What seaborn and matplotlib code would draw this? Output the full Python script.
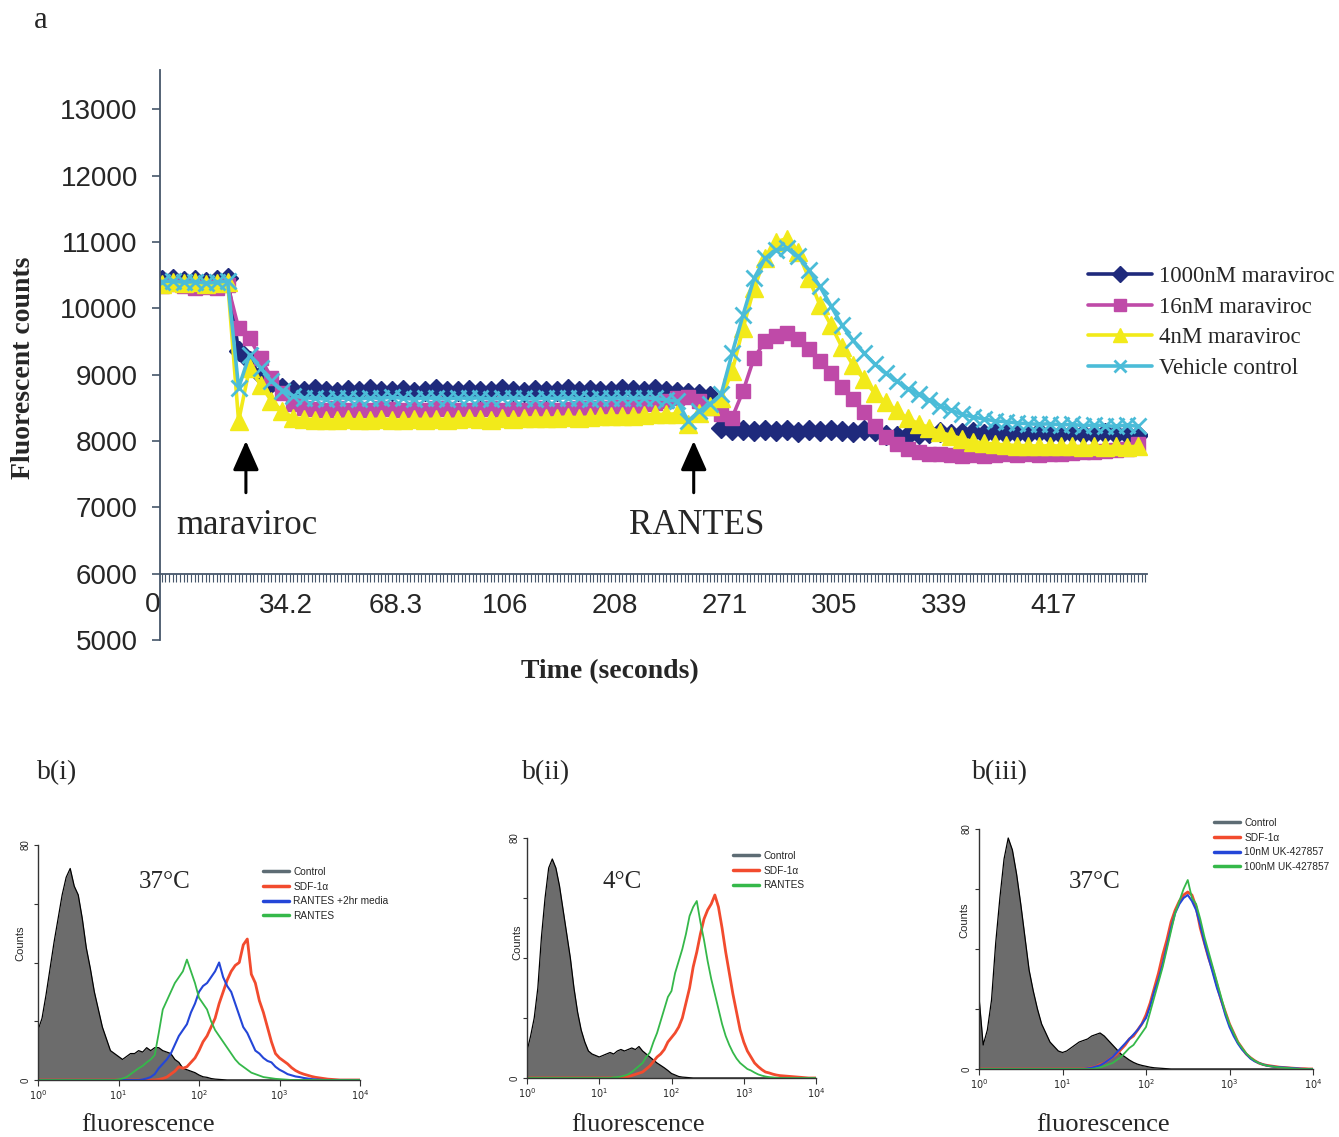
import numpy as np
import seaborn as sns
import matplotlib.pyplot as plt
from matplotlib import font_manager
from matplotlib.lines import Line2D
from matplotlib.ticker import NullLocator

sns.set_style("ticks")
plt.rcParams["font.family"] = ["Liberation Sans", "DejaVu Sans"]
SERIF = ["Liberation Serif", "DejaVu Serif"]
try:
    font_manager.findfont("Liberation Sans Narrow", fallback_to_default=False)
    NARROW = ["Liberation Sans Narrow", "Liberation Sans", "DejaVu Sans"]
    NARROW_SIZE = 8.5
except ValueError:
    NARROW = ["Liberation Sans", "DejaVu Sans"]
    NARROW_SIZE = 7.3

# ---------------- panel a : calcium flux trace ----------------
# one reading kept for every third category of the Excel x axis
time_idx = np.arange(0, 270, 3)

maraviroc_1000 = [
    10420, 10440, 10410, 10430, 10400, 10420, 10460,
    9350, 9200, 9000, 8870, 8800,
    8770, 8750, 8780, 8760, 8740, 8770, 8760, 8780, 8750, 8760,
    8770, 8740, 8760, 8780, 8750, 8760, 8770, 8750, 8760, 8780,
    8760, 8740, 8770, 8760, 8750, 8780, 8760, 8770, 8750, 8760,
    8780, 8770, 8760, 8790, 8760,
    8740, 8720, 8700, 8680,
    8200, 8170, 8160, 8150, 8170, 8150, 8160, 8140, 8160, 8150,
    8170, 8150, 8140, 8160, 8150,
    8090, 8070, 8090, 8110, 8120, 8130, 8110, 8120, 8130, 8110,
    8120, 8100, 8120, 8110, 8130, 8110, 8100, 8120, 8110, 8100,
    8120, 8110, 8100, 8090,
]
maraviroc_16 = [
    10340, 10360, 10330, 10300, 10320, 10310, 10350,
    9700, 9550, 9250, 8950, 8720,
    8560, 8500, 8480, 8470, 8490, 8460, 8480, 8470, 8490, 8480,
    8460, 8480, 8470, 8490, 8480, 8470, 8460, 8480, 8490, 8470,
    8480, 8470, 8490, 8480, 8470, 8480, 8490, 8500, 8490, 8500,
    8510, 8530, 8550, 8570, 8600,
    8640, 8660, 8600, 8500,
    8400, 8350, 8750, 9250, 9500, 9580, 9620, 9540, 9380, 9200,
    9020, 8820, 8630, 8430, 8220, 8060, 7960, 7880, 7840, 7810,
    7800, 7790, 7780, 7790, 7780, 7790, 7800, 7790, 7800, 7790,
    7810, 7800, 7820, 7830, 7840, 7850, 7860, 7880, 7950,
]
maraviroc_4 = [
    10370, 10400, 10380, 10390, 10360, 10380, 10400,
    8300, 9100, 8850, 8600, 8450,
    8350, 8330, 8320, 8310, 8320, 8330, 8310, 8320, 8330, 8320,
    8310, 8330, 8320, 8330, 8320, 8330, 8340, 8330, 8320, 8340,
    8330, 8340, 8350, 8340, 8350, 8360, 8350, 8360, 8370, 8380,
    8370, 8380, 8390, 8400, 8400,
    8410, 8250, 8420, 8520,
    8650, 9050, 9700, 10300, 10750, 11000, 11050, 10850, 10450, 10050,
    9750, 9420, 9150, 8930, 8720, 8580, 8460, 8340, 8260, 8200,
    8130, 8080, 8030, 7990, 7970, 7950, 7940, 7930, 7930, 7920,
    7930, 7920, 7920, 7910, 7920, 7910, 7920, 7910, 7920,
]
vehicle = [
    10400, 10410, 10390, 10400, 10380, 10390, 10410,
    8800, 9300, 9100, 8900, 8760,
    8680, 8650, 8640, 8630, 8650, 8640, 8630, 8650, 8640, 8660,
    8640, 8630, 8650, 8640, 8630, 8650, 8640, 8650, 8630, 8640,
    8650, 8640, 8630, 8650, 8640, 8650, 8640, 8630, 8650, 8640,
    8650, 8640, 8650, 8640, 8620,
    8600, 8300, 8450, 8560,
    8700, 9320, 9900, 10450, 10750, 10880, 10900, 10780, 10580, 10330,
    10040, 9750, 9520, 9330, 9160, 9020, 8900, 8790, 8700, 8610,
    8530, 8460, 8400, 8360, 8330, 8300, 8290, 8270, 8260, 8250,
    8260, 8240, 8250, 8230, 8240, 8230, 8220, 8240, 8220,
]
time_tick_idx = [34, 64, 94, 124, 154, 184, 214, 244]
time_tick_labels = ["34.2", "68.3", "106", "208", "271", "305", "339", "417"]

# ---------------- panels b : flow cytometry histograms ----------------
log_bins = np.arange(81) * 0.05          # channel grid, 10^0 .. 10^4
fluor = 10 ** log_bins

b1_control = [17, 21, 29, 38, 47, 55, 63, 69, 72, 66, 63, 55, 45, 38, 30, 24,
              18, 14, 10, 9, 8, 7, 8, 9, 9, 10, 9.5, 11, 10, 11, 11, 10, 9.5,
              9, 7, 6, 4, 3.5, 3, 2.5, 1.7, 1.1, 0.9, 0.5, 0.3, 0.2, 0.1] + [0] * 34
b1_rantes = [0] * 20 + [0.2, 0.5, 1.0, 2, 3, 4, 4.8, 6, 7, 8.5, 16, 24, 27, 30, 33,
                        35, 37, 41, 37, 33, 28, 26, 24, 20, 17, 15, 13, 11, 9, 7,
                        5.5, 4.5, 3.5, 2.5, 2, 1.5, 1, 0.8, 0.6, 0.4, 0.3, 0.2, 0.1] + [0] * 18
b1_rantes_2hr = [0] * 26 + [0.2, 0.5, 1, 2, 4, 5.5, 7, 9, 12, 15, 17, 19, 23, 26, 30,
                            32, 33, 35, 37, 40, 35, 32, 30, 26, 22, 18, 16, 13, 10, 9,
                            7.5, 6.5, 6, 4.5, 3.5, 2.8, 2, 1.6, 1.2, 1, 0.7, 0.5, 0.3,
                            0.2, 0.1] + [0] * 10
b1_sdf = [0] * 30 + [0.2, 0.5, 1, 2, 3, 4.5, 4, 4.5, 6, 7.5, 10, 13, 15, 18, 21, 26,
                     30, 34, 37, 39, 40, 46, 48, 36, 33, 27, 23, 18, 13, 9, 7.5, 6.5,
                     5.5, 4.2, 3.2, 2.5, 2, 1.6, 1.2, 0.9, 0.7, 0.5, 0.3, 0.2, 0.1] + [0] * 6

b2_control = [9, 14, 20, 30, 47, 60, 70, 73, 70, 64, 56, 48, 40, 30, 22, 16, 12, 9,
              8, 7.5, 7, 7.5, 8, 8.5, 8, 9, 9.5, 9, 9.5, 10, 9.5, 10.5, 9, 8, 7, 6,
              5, 4.2, 3.4, 2.5, 1.5, 1.0, 0.5, 0.3, 0.2, 0.1] + [0] * 35
b2_sdf = [0] * 26 + [0.2, 0.3, 0.5, 0.8, 1.2, 1.6, 2, 3, 4, 5.5, 7, 8, 9.5, 12, 13.5,
                     15, 17, 20, 25, 30, 37, 42, 48, 53, 56, 58, 61, 57, 50, 42, 35,
                     28, 22, 16, 12, 9, 7, 5, 3.8, 2.8, 2, 1.7, 1.3, 1, 0.8, 0.7, 0.6,
                     0.5, 0.4, 0.3, 0.2, 0.1] + [0] * 3
b2_rantes = [0] * 24 + [0.2, 0.3, 0.5, 0.8, 1.2, 2, 3, 4, 5, 7, 8.5, 12, 15, 19, 23,
                        27, 29, 35, 39, 43, 48, 54, 57, 59, 52, 46, 39, 33, 28, 23, 18,
                        14, 11, 8.5, 6.5, 5, 4, 3, 2.5, 1.8, 1.2, 0.8, 0.5, 0.3, 0.2,
                        0.1] + [0] * 11

b3_control = [24, 8, 13, 23, 42, 57, 70, 77, 73, 65, 55, 44, 33, 26, 20, 15, 12, 9,
              7.5, 6, 5.5, 6, 7, 8, 9, 9.5, 10, 11, 11.5, 12, 11, 9.5, 8, 6.5, 5, 4,
              3, 2.2, 1.6, 1.2, 0.9, 0.6, 0.4, 0.3, 0.2, 0.1] + [0] * 35
b3_sdf = [0] * 26 + [0.2, 0.5, 0.8, 1.5, 2, 3, 4, 5, 6.5, 8, 10, 11, 13, 15, 18, 22,
                     27, 32, 38, 43, 49, 53, 56, 58, 59, 58, 54, 47, 42, 37, 33, 28,
                     23, 19, 15, 12, 9, 7, 5, 3.8, 2.8, 2, 1.5, 1.2, 1, 0.8, 0.6, 0.5,
                     0.4, 0.3, 0.2, 0.1, 0.1] + [0] * 2
b3_uk10 = [0] * 26 + [0.2, 0.4, 0.8, 1.2, 2, 3, 4, 5.5, 7, 8.5, 10, 11.5, 13, 15, 17,
                      21, 26, 30, 35, 41, 47, 52, 55, 57, 58, 56, 53, 48, 42, 37, 32,
                      27, 23, 18, 14, 11, 8.5, 6.5, 5, 3.5, 2.6, 2, 1.5, 1.1, 0.9, 0.7,
                      0.6, 0.5, 0.4, 0.3, 0.2, 0.1] + [0] * 3
b3_uk100 = [0] * 28 + [0.2, 0.5, 1, 1.5, 2, 3, 4, 5.5, 7, 8, 10, 12, 14, 19, 24, 29,
                       34, 40, 46, 52, 56, 60, 63, 57, 55, 50, 44, 39, 34, 29, 24, 19,
                       15, 12, 9, 7, 5.2, 3.8, 2.8, 2, 1.5, 1.1, 0.9, 0.7, 0.5, 0.4,
                       0.3, 0.2, 0.1] + [0] * 4

RED, BLUE, GREEN = "#f24b2e", "#2446d8", "#35b84a"
AXC = "#46566a"
W, H = 1339, 1137

fig = plt.figure(figsize=(W / 100, H / 100), dpi=100)


def fx(px):
    return px / W


def fy(py):
    return 1 - py / H


# ---- panel a ----
ax = fig.add_axes([fx(160), fy(640), fx(987), 570 / H])
series = [
    ("1000nM maraviroc", maraviroc_1000, "#1f2a7c", "D", 10, 1.0),
    ("16nM maraviroc", maraviroc_16, "#bf4aa8", "s", 10.5, 1.0),
    ("4nM maraviroc", maraviroc_4, "#f2ea1a", "^", 12.5, 1.0),
    ("Vehicle control", vehicle, "#4bbcd8", "x", 11, 2.0),
]
for label, vals, col, mk, ms, mew in series:
    sns.lineplot(x=time_idx, y=vals, ax=ax, color=col, marker=mk, markersize=ms,
                 markeredgecolor=col, markeredgewidth=mew, linewidth=2.6, label=label)

ax.set_xlim(-0.5, 269.5)
ax.set_ylim(5000, 13590)
ax.set_yticks(range(5000, 14000, 1000))
ax.set_xticks(time_tick_idx)
ax.set_xticklabels(time_tick_labels)
ax.set_xticks(np.arange(0, 270), minor=True)
ax.set_xlabel("")
ax.set_ylabel("")
ax.spines["bottom"].set_position(("data", 6000))
ax.spines[["top", "right"]].set_visible(False)
for s in ("left", "bottom"):
    ax.spines[s].set_color(AXC)
    ax.spines[s].set_linewidth(1.3)
ax.tick_params(axis="y", labelsize=20, length=6, width=1.2, color=AXC, pad=10)
ax.tick_params(axis="x", which="both", length=6, width=0.8, color=AXC,
               labelsize=20, pad=8)
ax.text(-0.5, 5725, "0", ha="right", va="top", fontsize=20)

handles, labels = ax.get_legend_handles_labels()
ax.legend(handles, labels, loc="upper left", bbox_to_anchor=(fx(1088), fy(266)),
          bbox_transform=fig.transFigure, frameon=False,
          prop={"family": SERIF, "size": 16.5}, handlelength=2.8,
          handletextpad=0.3, labelspacing=0.42, borderpad=0, borderaxespad=0,
          markerscale=0.85)

arrow = dict(arrowstyle="-|>,head_length=0.9,head_width=0.4", color="black",
             lw=2.2, mutation_scale=20, shrinkA=0, shrinkB=0)
ax.annotate("", xy=(23, 8000), xytext=(23, 7220), arrowprops=arrow)
ax.annotate("", xy=(145.5, 8000), xytext=(145.5, 7220), arrowprops=arrow)
fig.text(fx(247), fy(525), "maraviroc", family=SERIF, fontsize=25,
         ha="center", va="center")
fig.text(fx(697), fy(525), "RANTES", family=SERIF, fontsize=25,
         ha="center", va="center")
fig.text(fx(24), fy(368), "Fluorescent counts", family=SERIF, fontsize=20,
         fontweight="bold", rotation=90, ha="center", va="center")
fig.text(fx(610), fy(672), "Time (seconds)", family=SERIF, fontsize=20,
         fontweight="bold", ha="center", va="center")
fig.text(fx(41), fy(20), "a", family=SERIF, fontsize=22, ha="center", va="center")


# ---- panels b ----
def hist_panel(box, control, lines, names, temp, temp_x, leg_xy, counts_xy,
               title, title_x, fl_x):
    left, top, right, bottom = box
    hx = fig.add_axes([fx(left), fy(bottom), fx(right - left), (bottom - top) / H])
    hx.fill_between(fluor, control, color="#6c6c6c", lw=0)
    sns.lineplot(x=fluor, y=control, ax=hx, color="black", linewidth=0.9)
    for vals, col, lw in lines:
        sns.lineplot(x=fluor, y=vals, ax=hx, color=col, linewidth=lw)
    hx.set_xscale("log")
    hx.set_xlim(1, 10000)
    hx.set_ylim(0, 80)
    hx.set_xticks([1, 10, 100, 1000, 10000])
    hx.set_xticklabels([r"$10^0$", r"$10^1$", r"$10^2$", r"$10^3$", r"$10^4$"])
    hx.xaxis.set_minor_locator(NullLocator())
    hx.set_yticks([0, 20, 40, 60, 80])
    hx.set_yticklabels(["0", "", "", "", "80"], rotation=90, va="center")
    hx.tick_params(axis="x", labelsize=7, length=4, width=0.8, pad=2, color="#333333")
    hx.tick_params(axis="y", labelsize=7, length=3, width=0.8, pad=2, color="#333333")
    hx.set_xlabel("")
    hx.set_ylabel("")
    hx.spines[["top", "right"]].set_visible(False)
    for s in ("left", "bottom"):
        hx.spines[s].set_color("#333333")
        hx.spines[s].set_linewidth(1.0)
    handles = [Line2D([], [], color="#5d6c74", lw=2.5)] + \
              [Line2D([], [], color=c, lw=2.5) for _, c, _ in lines]
    hx.legend(handles, names, loc="upper left", bbox_to_anchor=(fx(leg_xy[0]), fy(leg_xy[1])),
              bbox_transform=fig.transFigure, frameon=False,
              prop={"family": NARROW, "size": NARROW_SIZE}, handlelength=2.6,
              handletextpad=0.4, labelspacing=0.45, borderpad=0, borderaxespad=0)
    fig.text(fx(temp_x), fy(882), temp, family=SERIF, fontsize=18,
             ha="center", va="center")
    fig.text(fx(counts_xy[0]), fy(counts_xy[1]), "Counts", fontsize=8,
             rotation=90, ha="center", va="center")
    fig.text(fx(title_x), fy(773), title, family=SERIF, fontsize=20,
             ha="left", va="center")
    fig.text(fx(fl_x), fy(1125), "fluorescence", family=SERIF, fontsize=19,
             ha="center", va="center")


hist_panel((38, 845, 360, 1080), b1_control,
           [(b1_sdf, RED, 2.0), (b1_rantes_2hr, BLUE, 1.5), (b1_rantes, GREEN, 1.3)],
           ["Control", "SDF-1α", "RANTES +2hr media", "RANTES"],
           "37°C", 165, (263, 867), (20, 943), "b(i)", 37, 148)
hist_panel((527, 838, 816, 1078), b2_control,
           [(b2_sdf, RED, 2.0), (b2_rantes, GREEN, 1.3)],
           ["Control", "SDF-1α", "RANTES"],
           "4°C", 622, (733, 851), (517, 942), "b(ii)", 522, 638)
hist_panel((979, 829, 1313, 1069), b3_control,
           [(b3_sdf, RED, 2.0), (b3_uk10, BLUE, 1.5), (b3_uk100, GREEN, 1.3)],
           ["Control", "SDF-1α", "10nM UK-427857", "100nM UK-427857"],
           "37°C", 1095, (1214, 818), (964, 920), "b(iii)", 972, 1103)

fig.savefig("out.png", dpi=100)
